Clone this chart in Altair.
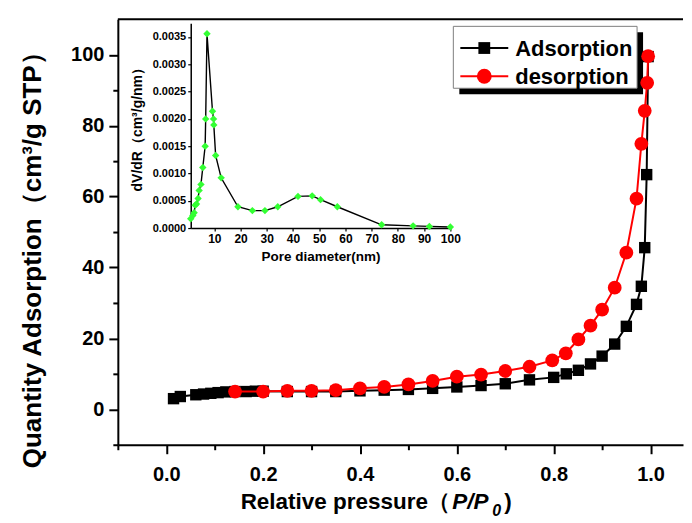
import altair as alt
import pandas as pd

# ---------------- data ----------------
ads_p = [0.015, 0.029, 0.061, 0.077, 0.092, 0.107, 0.123, 0.142, 0.165, 0.184, 0.2,
         0.25, 0.3, 0.35, 0.4, 0.45, 0.5, 0.55, 0.6, 0.65, 0.7, 0.75, 0.8, 0.826,
         0.851, 0.876, 0.9, 0.926, 0.95, 0.971, 0.981, 0.988, 0.992, 0.995]
ads_q = [3.0, 3.6, 4.1, 4.3, 4.5, 4.7, 4.9, 5.0, 5.0, 5.1, 5.1,
         5.0, 5.0, 5.0, 5.2, 5.4, 5.6, 5.9, 6.3, 6.7, 7.2, 8.3, 9.0, 10.0,
         11.0, 12.8, 15.0, 18.4, 23.4, 29.6, 34.7, 45.6, 66.2, 99.5]

des_p = [0.142, 0.2, 0.25, 0.3, 0.35, 0.4, 0.45, 0.5, 0.55, 0.6, 0.65, 0.7, 0.75,
         0.797, 0.825, 0.851, 0.876, 0.9, 0.926, 0.95, 0.971, 0.981, 0.988, 0.993, 0.995]
des_q = [5.0, 5.0, 5.2, 5.2, 5.4, 5.9, 6.3, 7.0, 8.0, 9.2, 9.8, 10.8, 12.0,
         13.8, 15.8, 19.7, 23.6, 28.1, 34.3, 44.2, 59.4, 74.9, 84.2, 92.1, 99.6]

pore_d = [1.0, 1.8, 2.3, 2.7, 3.2, 3.8, 4.2, 4.9, 5.6, 6.5, 6.7, 7.2, 9.3, 9.7, 9.8,
          10.5, 12.6, 19.0, 24.5, 29.3, 34.2, 41.9, 47.3, 50.5, 56.9, 73.8, 85.8, 92.0, 100.0]
pore_v = [0.00017, 0.00023, 0.00028, 0.00042, 0.00044, 0.00054, 0.00069, 0.0008, 0.00111,
          0.0015, 0.002, 0.00356, 0.00214, 0.002, 0.00189, 0.00133, 0.00092, 0.00039,
          0.00032, 0.00032, 0.00039, 0.00058, 0.00059, 0.00052, 0.00039, 0.00006,
          0.00004, 0.00003, 0.00002]

series_names = ["Adsorption", "desorption"]
x_title_parts = ["Relative pressure（", "P/P", "0", ")"]
y_title = "Quantity Adsorption（cm³/g STP）"

x_ticks = [-0.1, 0.0, 0.1, 0.2, 0.3, 0.4, 0.5, 0.6, 0.7, 0.8, 0.9, 1.0]
y_ticks = [-10, 0, 10, 20, 30, 40, 50, 60, 70, 80, 90, 100]
inset_x_ticks = [10, 20, 30, 40, 50, 60, 70, 80, 90, 100]
inset_y_ticks = [0.0, 0.0005, 0.001, 0.0015, 0.002, 0.0025, 0.003, 0.0035]

# ---------------- layout ----------------
W, H = 566, 426
FONT = "Liberation Sans"

ads = pd.DataFrame({"p": ads_p, "q": ads_q})
des = pd.DataFrame({"p": des_p, "q": des_q})
pore = pd.DataFrame({"d": pore_d, "v": pore_v})

xs = alt.Scale(domain=[-0.1, 1.067], nice=False, zero=False)
ys = alt.Scale(domain=[-10, 110], nice=False, zero=False)

common_axis = dict(
    tickWidth=2, tickColor="black", domainColor="black", domainWidth=2,
    labelFont=FONT, labelFontWeight="bold", labelColor="black",
    titleFont=FONT, titleFontWeight="bold", titleColor="black",
    grid=False, labelOverlap=False, labelFlush=False, labelBound=False,
)

x_axis = alt.Axis(
    values=x_ticks,
    labelExpr="round(datum.value*10) % 2 === 0 ? format(datum.value, '.1f') : ''",
    tickSize={"condition": {"test": "round(datum.value*10) % 2 !== 0", "value": 5}, "value": 9},
    labelFontSize=20, labelPadding=11, title=None,
    **common_axis,
)
y_axis = alt.Axis(
    values=y_ticks,
    labelExpr="round(datum.value/10) % 2 === 0 ? format(datum.value, 'd') : ''",
    tickSize={"condition": {"test": "round(datum.value/10) % 2 !== 0", "value": 5}, "value": 9},
    labelFontSize=20, labelPadding=5,
    title=y_title, titleFontSize=26, titlePadding=25, titleAlign="left", titleY=449,
    **common_axis,
)

X = alt.X("p:Q", scale=xs, axis=x_axis)
Y = alt.Y("q:Q", scale=ys, axis=y_axis)

ads_line = alt.Chart(ads).mark_line(color="black", strokeWidth=2).encode(x=X, y=Y)
ads_pts = alt.Chart(ads).mark_point(shape="square", filled=True, color="black",
                                    size=130, opacity=1).encode(x=X, y=Y)
des_line = alt.Chart(des).mark_line(color="#ff0000", strokeWidth=2).encode(x=X, y=Y)
des_pts = alt.Chart(des).mark_point(shape="circle", filled=True, color="#ff0000",
                                    size=190, opacity=1).encode(x=X, y=Y)

# frame top line
top_rule = alt.Chart().mark_rule(color="black", strokeWidth=2).encode(
    x=alt.value(0), x2=alt.value(W), y=alt.value(0))

# x axis title made of pieces (italic P/P0 with subscript)
def title_piece(text, x, y, size, style="normal"):
    return alt.Chart().mark_text(align="left", baseline="alphabetic", font=FONT,
                                 fontWeight="bold", fontStyle=style, fontSize=size,
                                 color="black").encode(
        x=alt.value(x), y=alt.value(y), text=alt.value(text))

xt1 = title_piece(x_title_parts[0], 123, 490, 22.5)
xt2 = title_piece(x_title_parts[1], 335, 490, 22.5, "italic")
xt3 = title_piece(x_title_parts[2], 375, 497, 16, "italic")
xt4 = title_piece(x_title_parts[3], 387, 490, 22.5)

# manual legend (box, shadow, symbols, labels)
LX0, LX1, LY0, LY1 = 336, 520, 7, 69
shadow = alt.Chart().mark_rect(color="black").encode(
    x=alt.value(LX0 + 6), x2=alt.value(LX1 + 6), y=alt.value(LY0 + 6), y2=alt.value(LY1 + 6))
box = alt.Chart().mark_rect(fill="white", stroke="#808080", strokeWidth=1).encode(
    x=alt.value(LX0), x2=alt.value(LX1), y=alt.value(LY0), y2=alt.value(LY1))
row1, row2 = 28.7, 57.0
leg_line1 = alt.Chart().mark_rule(color="black", strokeWidth=2).encode(
    x=alt.value(343), x2=alt.value(391), y=alt.value(row1))
leg_line2 = alt.Chart().mark_rule(color="#ff0000", strokeWidth=2).encode(
    x=alt.value(343), x2=alt.value(391), y=alt.value(row2))
leg_pt1 = alt.Chart().mark_point(shape="square", filled=True, color="black", size=140,
                                 opacity=1).encode(x=alt.value(367), y=alt.value(row1))
leg_pt2 = alt.Chart().mark_point(shape="circle", filled=True, color="#ff0000", size=220,
                                 opacity=1).encode(x=alt.value(367), y=alt.value(row2))
leg_txt1 = title_piece(series_names[0], 398, row1 + 7.8, 22)
leg_txt2 = title_piece(series_names[1], 398, row2 + 7.8, 22)

main = alt.layer(top_rule, xt1, xt2, xt3, xt4, shadow, box, leg_line1, leg_line2,
                 leg_pt1, leg_pt2, leg_txt1, leg_txt2, ads_line, ads_pts, des_line, des_pts)

# ---------------- inset ----------------
ixs = alt.Scale(domain=[1, 100], range=[73, 333], nice=False, zero=False)
iys = alt.Scale(domain=[0, 0.00375], range=[209, 4], nice=False, zero=False)

inset_common = dict(
    tickWidth=1.2, tickColor="black", domainColor="black", domainWidth=1.5,
    labelFont=FONT, labelFontWeight="bold", labelColor="black",
    titleFont=FONT, titleFontWeight="bold", titleColor="black",
    grid=False, labelOverlap=False, labelFlush=False, labelBound=False, tickSize=3,
)
ix_axis = alt.Axis(orient="bottom", offset=-(H - 209), values=inset_x_ticks, format="d",
                   labelFontSize=12, labelPadding=2, title="Pore diameter(nm)",
                   titleFontSize=13.5, titlePadding=5, **inset_common)
iy_axis = alt.Axis(orient="left", offset=-73, values=inset_y_ticks, format=".4f",
                   labelFontSize=11, labelPadding=2, title="dV/dR（cm³/g/nm）",
                   titleFontSize=14, titlePadding=8, **inset_common)

IX = alt.X("d:Q", scale=ixs, axis=ix_axis)
IY = alt.Y("v:Q", scale=iys, axis=iy_axis)
in_line = alt.Chart(pore).mark_line(color="black", strokeWidth=1.4).encode(x=IX, y=IY)
in_pts = alt.Chart(pore).mark_point(shape="diamond", filled=True, color="#33ff33",
                                    size=55, opacity=1).encode(x=IX, y=IY)
inset = alt.layer(in_line, in_pts)

chart = alt.layer(main, inset).resolve_scale(x="independent", y="independent").properties(
    width=W, height=H, padding={"left": 11, "top": 10, "right": 0, "bottom": 0},
    background="white",
).configure_view(stroke=None)

chart.save("out.html", embed_options={"renderer": "svg", "actions": False})
